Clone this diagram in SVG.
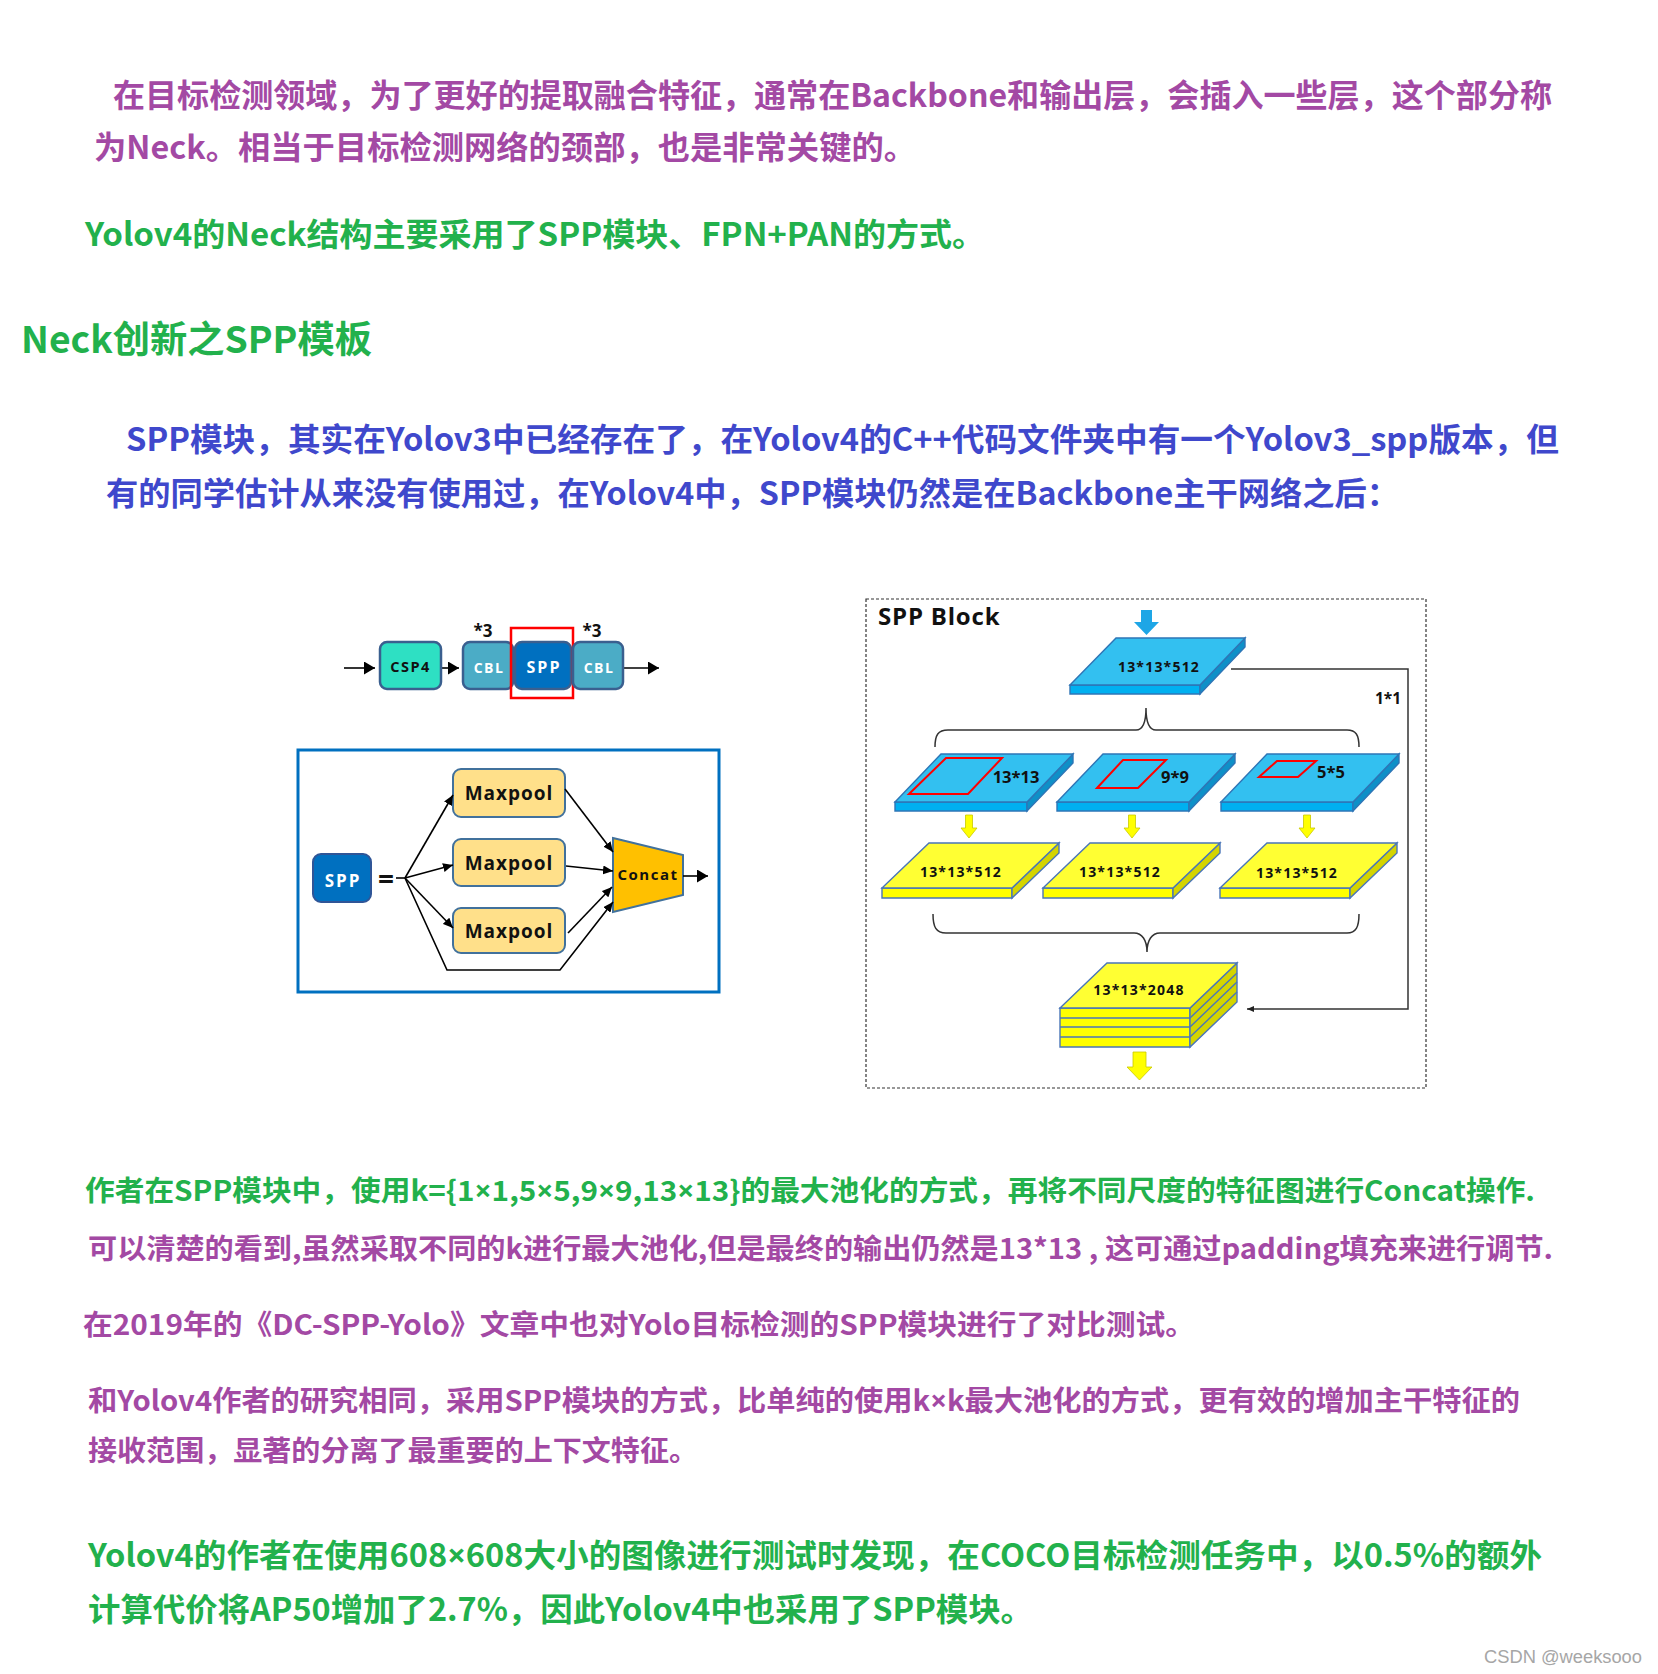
<svg xmlns="http://www.w3.org/2000/svg" width="1658" height="1674" viewBox="0 0 1658 1674">
<style>
.t{font-family:'Noto Sans CJK SC','Microsoft YaHei',sans-serif;font-weight:700}
.x{font-family:'Noto Sans','Open Sans',sans-serif;font-weight:700}
.pu{fill:#a349a4}.gr{fill:#22b14c}.bl{fill:#3f48cc}
.d{font-family:'Open Sans','Noto Sans',sans-serif;font-weight:700}
.ln{stroke:#000;stroke-width:1.6;fill:none}
.bx{stroke:#3a5f8f;stroke-width:2.5}
.sb{stroke:#2e75b6;stroke-width:1.4}
.sy{stroke:#4a76b8;stroke-width:1.4}
.br{stroke:#333;stroke-width:1.5;fill:none}
</style>
<defs>
<marker id="ah" markerUnits="userSpaceOnUse" markerWidth="11" markerHeight="13" viewBox="0 0 11 13" refX="11" refY="6.5" orient="auto"><path d="M0,0 L11,6.5 L0,13z" fill="#000"/></marker>
<marker id="as" markerUnits="userSpaceOnUse" markerWidth="10" markerHeight="9" viewBox="0 0 10 9" refX="10" refY="4.5" orient="auto"><path d="M0,0 L10,4.5 L0,9z" fill="#000"/></marker>
<marker id="at" markerUnits="userSpaceOnUse" markerWidth="7" markerHeight="6" viewBox="0 0 7 6" refX="7" refY="3" orient="auto"><path d="M0,0 L7,3 L0,6z" fill="#222"/></marker>
</defs>
<rect width="1658" height="1674" fill="#fff"/>

<g id="text">
<text class="t pu" x="113" y="107" font-size="32" textLength="1439" lengthAdjust="spacingAndGlyphs">在目标检测领域，为了更好的提取融合特征，通常在Backbone和输出层，会插入一些层，这个部分称</text>
<text class="t pu" x="94" y="159" font-size="32" textLength="822" lengthAdjust="spacingAndGlyphs">为Neck。相当于目标检测网络的颈部，也是非常关键的。</text>
<text class="t gr" x="85" y="246" font-size="32" textLength="900" lengthAdjust="spacingAndGlyphs">Yolov4的Neck结构主要采用了SPP模块、FPN+PAN的方式。</text>
<text class="t gr" x="21" y="353" font-size="37" textLength="351" lengthAdjust="spacingAndGlyphs">Neck创新之SPP模板</text>
<text class="t bl" x="126" y="451" font-size="32" textLength="1433" lengthAdjust="spacingAndGlyphs">SPP模块，其实在Yolov3中已经存在了，在Yolov4的C++代码文件夹中有一个Yolov3_spp版本，但</text>
<text class="t bl" x="106" y="505" font-size="32" textLength="1293" lengthAdjust="spacingAndGlyphs">有的同学估计从来没有使用过，在Yolov4中，SPP模块仍然是在Backbone主干网络之后：</text>
<text class="t gr" x="85" y="1201" font-size="28" textLength="1450" lengthAdjust="spacingAndGlyphs">作者在SPP模块中，使用k={1<tspan class="x">×</tspan>1,5<tspan class="x">×</tspan>5,9<tspan class="x">×</tspan>9,13<tspan class="x">×</tspan>13}的最大池化的方式，再将不同尺度的特征图进行Concat操作.</text>
<text class="t pu" x="88" y="1259" font-size="28" textLength="1465" lengthAdjust="spacingAndGlyphs">可以清楚的看到,虽然采取不同的k进行最大池化,但是最终的输出仍然是13*13 , 这可通过padding填充来进行调节.</text>
<text class="t pu" x="83" y="1335" font-size="28" textLength="1112" lengthAdjust="spacingAndGlyphs">在2019年的《DC-SPP-Yolo》文章中也对Yolo目标检测的SPP模块进行了对比测试。</text>
<text class="t pu" x="88" y="1411" font-size="28" textLength="1432" lengthAdjust="spacingAndGlyphs">和Yolov4作者的研究相同，采用SPP模块的方式，比单纯的使用k<tspan class="x">×</tspan>k最大池化的方式，更有效的增加主干特征的</text>
<text class="t pu" x="88" y="1461" font-size="28" textLength="610" lengthAdjust="spacingAndGlyphs">接收范围，显著的分离了最重要的上下文特征。</text>
<text class="t gr" x="88" y="1567" font-size="32" textLength="1454" lengthAdjust="spacingAndGlyphs">Yolov4的作者在使用608<tspan class="x">×</tspan>608大小的图像进行测试时发现，在COCO目标检测任务中，以0.5%的额外</text>
<text class="t gr" x="88" y="1621" font-size="32" textLength="945" lengthAdjust="spacingAndGlyphs">计算代价将AP50增加了2.7%，因此Yolov4中也采用了SPP模块。</text>
<text x="1484" y="1663" font-family="'Liberation Sans',Arial,sans-serif" font-size="18" fill="#a6a6a6" textLength="158" lengthAdjust="spacingAndGlyphs">CSDN @weeksooo</text>
</g>

<!-- Left chain -->
<g id="chain-connectors">
<line class="ln" x1="344" y1="668" x2="375" y2="668" marker-end="url(#ah)"/>
<line class="ln" x1="441" y1="668" x2="459" y2="668" marker-end="url(#ah)"/>
<line class="ln" x1="623" y1="668" x2="659" y2="668" marker-end="url(#ah)"/>
</g>
<g id="csp4"><rect class="bx" x="380" y="642" width="61" height="47" rx="7" fill="#2ee0c3"/><text class="d" x="410.5" y="672" font-size="14.5" text-anchor="middle" letter-spacing="1.5" fill="#111">CSP4</text></g>
<g id="cbl1"><rect class="bx" x="463" y="642" width="50" height="47" rx="7" fill="#4bacc6"/><text class="d" x="489" y="673" font-size="14" text-anchor="middle" letter-spacing="1.5" fill="#fff">CBL</text><text class="d" x="483" y="637" font-size="17" text-anchor="middle" fill="#111">*3</text></g>
<g id="spp-chain"><rect class="bx" x="515" y="642" width="56" height="47" rx="7" fill="#0070c0"/><text class="d" x="544" y="673" font-size="16" text-anchor="middle" letter-spacing="2" fill="#fff">SPP</text><rect x="511" y="628" width="62" height="70" fill="none" stroke="#ff0000" stroke-width="2.5"/></g>
<g id="cbl2"><rect class="bx" x="573" y="642" width="50" height="47" rx="7" fill="#4bacc6"/><text class="d" x="599" y="673" font-size="14" text-anchor="middle" letter-spacing="1.5" fill="#fff">CBL</text><text class="d" x="592" y="637" font-size="17" text-anchor="middle" fill="#111">*3</text></g>

<!-- Left SPP detail -->
<g id="spp-frame"><rect x="298" y="750" width="421" height="242" fill="none" stroke="#0070c0" stroke-width="3"/></g>
<g id="spp-box"><rect x="313" y="854" width="58" height="48" rx="8" fill="#0070c0" stroke="#2f5597" stroke-width="2"/><text class="d" x="343" y="887" font-size="17" text-anchor="middle" letter-spacing="2" fill="#fff">SPP</text><text class="d" x="386" y="889" font-size="28" text-anchor="middle" fill="#111">=</text></g>
<g id="maxpool1"><rect x="453" y="769" width="112" height="48" rx="8" fill="#ffe08a" stroke="#41719c" stroke-width="2"/><text class="d" x="509" y="800" font-size="19" text-anchor="middle" letter-spacing="1" fill="#111">Maxpool</text></g>
<g id="maxpool2"><rect x="453" y="839" width="112" height="47" rx="8" fill="#ffe08a" stroke="#41719c" stroke-width="2"/><text class="d" x="509" y="870" font-size="19" text-anchor="middle" letter-spacing="1" fill="#111">Maxpool</text></g>
<g id="maxpool3"><rect x="453" y="908" width="112" height="45" rx="8" fill="#ffe08a" stroke="#41719c" stroke-width="2"/><text class="d" x="509" y="938" font-size="19" text-anchor="middle" letter-spacing="1" fill="#111">Maxpool</text></g>
<g id="concat"><polygon points="613,838 683,855 683,895 613,912" fill="#ffc000" stroke="#41719c" stroke-width="2"/><text class="d" x="648" y="880" font-size="15" text-anchor="middle" letter-spacing="1.5" fill="#111">Concat</text></g>
<g id="spp-connectors">
<line class="ln" x1="396" y1="878" x2="405" y2="878"/>
<line class="ln" x1="405" y1="878" x2="453" y2="795" marker-end="url(#as)"/>
<line class="ln" x1="405" y1="878" x2="453" y2="865" marker-end="url(#as)"/>
<line class="ln" x1="405" y1="878" x2="453" y2="928" marker-end="url(#as)"/>
<polyline class="ln" points="405,878 447,970 560,970 613,902" marker-end="url(#as)"/>
<line class="ln" x1="565" y1="789" x2="613" y2="852" marker-end="url(#as)"/>
<line class="ln" x1="566" y1="866" x2="613" y2="871" marker-end="url(#as)"/>
<line class="ln" x1="568" y1="933" x2="612" y2="887" marker-end="url(#as)"/>
<line class="ln" x1="683" y1="876" x2="708" y2="876" marker-end="url(#ah)"/>
</g>

<!-- Right SPP Block -->
<g id="spp-block-frame"><rect x="866" y="599" width="560" height="489" fill="none" stroke="#333" stroke-width="1.2" stroke-dasharray="3,2"/><text class="d" x="878" y="625" font-size="24" letter-spacing="0.8" fill="#111">SPP Block</text></g>
<g id="in-arrow"><polygon points="1141,610 1152,610 1152,622 1159,622 1146.5,635 1134,622 1141,622" fill="#1ea6e6"/></g>
<g id="slab-top">
<polygon class="sb" points="1070,694 1200,694 1200,685 1070,685" fill="#00b0f0"/>
<polygon class="sb" points="1200,685 1245,638 1245,647 1200,694" fill="#0e90c8"/>
<polygon class="sb" points="1070,685 1116,638 1245,638 1200,685" fill="#33c0f0"/>
<text class="d" x="1159" y="672" font-size="14" text-anchor="middle" letter-spacing="1.2" fill="#111">13*13*512</text>
</g>
<g id="slab-13">
<polygon class="sb" points="895,811 1027,811 1027,802 895,802" fill="#00b0f0"/>
<polygon class="sb" points="1027,802 1073,754 1073,763 1027,811" fill="#0e90c8"/>
<polygon class="sb" points="895,802 941,754 1073,754 1027,802" fill="#33c0f0"/>
<polygon points="909,794 946,758 1002,758 968,794" fill="none" stroke="#ff0000" stroke-width="2"/>
<text class="d" x="1016" y="783" font-size="16.5" text-anchor="middle" fill="#111">13*13</text>
</g>
<g id="slab-9">
<polygon class="sb" points="1057,811 1189,811 1189,802 1057,802" fill="#00b0f0"/>
<polygon class="sb" points="1189,802 1235,754 1235,763 1189,811" fill="#0e90c8"/>
<polygon class="sb" points="1057,802 1103,754 1235,754 1189,802" fill="#33c0f0"/>
<polygon points="1097,788 1123,760 1166,760 1138,788" fill="none" stroke="#ff0000" stroke-width="2"/>
<text class="d" x="1175" y="783" font-size="16.5" text-anchor="middle" fill="#111">9*9</text>
</g>
<g id="slab-5">
<polygon class="sb" points="1221,811 1353,811 1353,802 1221,802" fill="#00b0f0"/>
<polygon class="sb" points="1353,802 1399,754 1399,763 1353,811" fill="#0e90c8"/>
<polygon class="sb" points="1221,802 1267,754 1399,754 1353,802" fill="#33c0f0"/>
<polygon points="1259,777 1277,761 1316,761 1298,777" fill="none" stroke="#ff0000" stroke-width="2"/>
<text class="d" x="1331" y="778" font-size="16.5" text-anchor="middle" fill="#111">5*5</text>
</g>
<g id="y-arrows" fill="#ffff00" stroke="#c9c900" stroke-width="0.8">
<polygon points="965.5,815 972.5,815 972.5,828 977,828 969,838 961,828 965.5,828"/>
<polygon points="1128.5,815 1135.5,815 1135.5,828 1140,828 1132,838 1124,828 1128.5,828"/>
<polygon points="1303.5,815 1310.5,815 1310.5,828 1315,828 1307,838 1299,828 1303.5,828"/>
</g>
<g id="yslab-1">
<polygon class="sy" points="882,898 1012,898 1012,888 882,888" fill="#ffff00"/>
<polygon class="sy" points="1012,888 1059,843 1059,853 1012,898" fill="#d4d400"/>
<polygon class="sy" points="882,888 929,843 1059,843 1012,888" fill="#ffff33"/>
<text class="d" x="961" y="877" font-size="14" text-anchor="middle" letter-spacing="1.2" fill="#111">13*13*512</text>
</g>
<g id="yslab-2">
<polygon class="sy" points="1043,898 1173,898 1173,888 1043,888" fill="#ffff00"/>
<polygon class="sy" points="1173,888 1220,843 1220,853 1173,898" fill="#d4d400"/>
<polygon class="sy" points="1043,888 1090,843 1220,843 1173,888" fill="#ffff33"/>
<text class="d" x="1120" y="877" font-size="14" text-anchor="middle" letter-spacing="1.2" fill="#111">13*13*512</text>
</g>
<g id="yslab-3">
<polygon class="sy" points="1220,898 1350,898 1350,888 1220,888" fill="#ffff00"/>
<polygon class="sy" points="1350,888 1397,843 1397,853 1350,898" fill="#d4d400"/>
<polygon class="sy" points="1220,888 1267,843 1397,843 1350,888" fill="#ffff33"/>
<text class="d" x="1297" y="878" font-size="14" text-anchor="middle" letter-spacing="1.2" fill="#111">13*13*512</text>
</g>
<g id="stack-2048">
<polygon class="sy" points="1060,1047 1190,1047 1190,1008 1060,1008" fill="#ffff00"/>
<line class="sy" x1="1060" y1="1018" x2="1190" y2="1018"/>
<line class="sy" x1="1060" y1="1027" x2="1190" y2="1027"/>
<line class="sy" x1="1060" y1="1037" x2="1190" y2="1037"/>
<polygon class="sy" points="1190,1008 1237,963 1237,1002 1190,1047" fill="#d4d400"/>
<line class="sy" x1="1190" y1="1018" x2="1237" y2="973"/>
<line class="sy" x1="1190" y1="1027" x2="1237" y2="982"/>
<line class="sy" x1="1190" y1="1037" x2="1237" y2="992"/>
<polygon class="sy" points="1060,1008 1107,963 1237,963 1190,1008" fill="#ffff33"/>
<text class="d" x="1139" y="995" font-size="14" text-anchor="middle" letter-spacing="1.2" fill="#111">13*13*2048</text>
</g>
<g id="out-arrow"><polygon points="1133,1052 1146,1052 1146,1067 1152,1067 1139.5,1080 1127,1067 1133,1067" fill="#ffff00" stroke="#c9c900" stroke-width="0.8"/></g>
<g id="block-connectors">
<path class="br" d="M935,747 C935,735 938,730 948,730 L1136,730 C1143,730 1146,722 1146,708 C1146,722 1149,730 1156,730 L1347,730 C1356,730 1359,735 1359,747"/>
<path class="br" d="M933,914 C933,927 936,933 946,933 L1134,933 C1142,933 1147,940 1147,952 C1147,940 1152,933 1160,933 L1347,933 C1356,933 1359,927 1359,914"/>
<polyline points="1231,669 1408,669 1408,1009 1247,1009" fill="none" stroke="#333" stroke-width="1.5" marker-end="url(#at)"/>
<text class="d" x="1388" y="704" font-size="15.5" text-anchor="middle" fill="#111">1*1</text>
</g>
</svg>
